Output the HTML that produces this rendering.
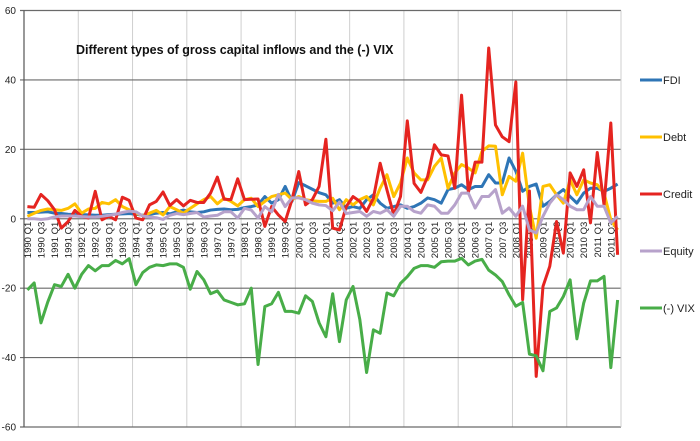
<!DOCTYPE html>
<html><head><meta charset="utf-8"><style>
html,body{margin:0;padding:0;background:#fff;}
svg{display:block;font-family:"Liberation Sans",sans-serif;}
</style></head><body>
<svg id="chart" width="700" height="441" viewBox="0 0 700 441">
<g id="grid"></g>
<g id="yaxis"></g>
<g id="xaxis"></g>
<g id="series"></g>
<text x="76" y="54" font-size="12.5" font-weight="bold" fill="#111">Different types of gross capital inflows and the (-) VIX</text>
<g id="legend"></g>
</svg>
<script>
const yTicks=[60,40,20,0,-20,-40,-60];
const seriesNames=["FDI","Debt","Credit","Equity","(-) VIX"];
const fdi=[1.8,1.8,1.9,2,1.6,1.5,1.3,1.2,1.2,1.1,1,1,1.2,1.3,1.4,1.5,1.3,1,1.2,1.6,1.8,1.4,2,2.5,2,1.8,2,2.5,2.7,2.8,2.6,2.7,3.2,3.5,4,6.4,4.5,5.5,9.3,5,10.4,9.5,8.5,7.5,6.9,4.5,5.5,3,3.5,3,5.5,6.9,4.5,3,3.5,4,3,3.5,4.5,6,5.5,4.5,8.4,8.8,9.8,8.4,9.3,9.3,12.7,10.3,10.3,17.5,13.7,7.9,9.3,10,3.6,5,6.9,8.4,6.4,4.5,7.4,8.8,8.8,7.9,8.8,10];
const debt=[0.7,1.6,2.4,2.8,2.6,2.4,3,4.3,1.6,2.8,3,4.7,4.3,5.5,3.5,2.6,1.6,0.9,1.6,2.4,1.1,3.5,2.6,1.6,3,4.3,5.5,6.4,4.3,5.9,5,3.7,5.5,5.9,3.5,5,6.4,6.9,7.4,5.5,6.4,5.5,5.2,5,5,5.9,2.6,5.5,4,5.5,6.4,4,8.8,12.7,6.4,10.3,17.5,13.2,11.2,11.2,15.1,17.5,8.8,13.2,15.6,14.6,13.2,19.4,21,20.9,6.9,12.2,10.8,18.9,3.6,-5.6,9.3,9.8,6.9,4.5,11.2,6.9,11.2,10.3,9.8,7.4,-0.3,-3.2];
const credit=[3.5,3.3,7,5.2,2.6,-2.7,-0.8,2.4,0.7,0.2,7.9,-0.3,0.7,-0.3,6.2,5.3,0.2,-0.3,4,5,7.7,3.8,5.5,3.7,5.3,4.7,4.7,7.4,12,5.6,5.5,11.5,5.5,5.6,5.7,-2.2,3.5,1.1,-0.8,5.5,13.6,4,5.5,9.3,22.9,-2.7,-3.2,3.5,6.4,5,2.1,5.9,16,8.3,1.1,6.4,28.2,10.2,7.6,12.2,21.3,18.4,18.1,8.8,35.6,7.6,16.3,16.3,49.2,27,23.6,22.2,39.4,-23.3,8,-45.4,-19.5,-13.7,-0.8,-9.9,13.2,9.3,14.1,-1.2,19.1,4,27.6,-10.4];
const equity=[0,0,-0.2,0,0.5,0.8,0.8,0.8,0.6,0.5,0.5,0.7,1,1.3,1.8,2.2,2,0.8,0.5,0.3,-0.2,1,1.5,1.2,1.5,1.8,0.5,0.8,1,2,2,0.2,3,2.5,0.2,3.5,2,7,3.5,6,6,5.5,4.5,4,3.8,2.3,4.8,1.5,1.8,2.1,0.7,2.1,1.6,2.6,0.7,3.6,3.6,2.1,1.6,4,3.6,1.6,1.6,4,7.4,7.4,3.1,6.4,6.4,8.4,1.6,3.1,0.7,3.6,-3.2,-4.1,0.7,4.5,6.9,5.5,3.6,2.6,2.6,6.4,3.6,3.6,-1.2,0.7];
const vix=[-20.5,-18.5,-30,-24,-19,-19.5,-16,-20,-16,-13.5,-15,-13.5,-13.5,-12,-13,-11.5,-19,-15.5,-14,-13.3,-13.5,-13,-13,-14,-20.3,-15.2,-17.6,-21.6,-20.8,-23.4,-24.1,-24.8,-24.5,-20,-42,-25.3,-24.5,-21.2,-26.7,-26.7,-27.2,-22.2,-23.8,-30,-34,-21.6,-35.4,-23.4,-19.5,-29,-44.3,-32,-33,-21.4,-22.2,-18.6,-16.7,-14.3,-13.5,-13.5,-14,-12.4,-12.2,-12.2,-11.4,-13.3,-12.2,-11.7,-14.8,-16.2,-18.1,-21.9,-25.2,-24.1,-39,-39.5,-43.8,-26.7,-25.7,-22.4,-17.6,-34.6,-24.3,-17.9,-17.9,-16.6,-42.9,-23.4];
const colors=["#2e75b6","#ffc000","#e52420","#b7a2cb","#48ad48"];
const seriesData=[fdi,debt,credit,equity,vix];

const NS="http://www.w3.org/2000/svg";
const plotLeft=24,plotRight=621,plotTop=10.5,plotBottom=427,N=88;
const step=(plotRight-plotLeft)/N;
function xs(i){return plotLeft+step*(i+0.5);}
function ys(v){return plotTop+(60-v)/120*(plotBottom-plotTop);}
function mk(tag,attrs,parent){const e=document.createElementNS(NS,tag);for(const k in attrs)e.setAttribute(k,attrs[k]);parent.appendChild(e);return e;}
const grid=document.getElementById('grid'),yax=document.getElementById('yaxis'),xax=document.getElementById('xaxis'),ser=document.getElementById('series'),leg=document.getElementById('legend');
for(let k=1;k<=11;k++){const x=plotLeft+step*8*k;
 const l=mk('line',{x1:x,x2:x,y1:plotTop,y2:plotBottom,stroke:'#cfcfcf','stroke-width':1},grid);
 
 }
yTicks.forEach(t=>{const y=ys(t);
 const l=mk('line',{x1:plotLeft-4,x2:plotRight,y1:y,y2:y,stroke:t===0?'#777':'#6a6a6a','stroke-width':1.2},grid);
 
 
 const tx=mk('text',{x:16,y:y+3.5,'text-anchor':'end','font-size':10,fill:'#222'},yax);tx.textContent=t;
 
 });
const ax=mk('line',{x1:plotLeft,x2:plotLeft,y1:plotTop,y2:plotBottom,stroke:'#555','stroke-width':1.2},yax);


const rb=mk('line',{x1:plotRight,x2:plotRight,y1:plotTop,y2:plotBottom,stroke:'#cfcfcf','stroke-width':1},grid);


const y0=ys(0);
for(let i=0;i<N;i++){
 if(i%2===0){const x=xs(i);const yr=1990+Math.floor(i/4),q=(i%4)+1;
  const tx=mk('text',{x:0,y:0,transform:`translate(${x+3.5},${y0+3}) rotate(-90)`,'text-anchor':'end','font-size':9.5,fill:'#222'},xax);
  tx.textContent=yr+' Q'+q;
  
  }
}
seriesData.forEach((arr,s)=>{
 const d=arr.map((v,i)=>(i?'L':'M')+xs(i).toFixed(2)+' '+ys(v).toFixed(2)).join(' ');
 const p=mk('path',{d:d,fill:'none',stroke:colors[s],'stroke-width':3,'stroke-linejoin':'round'},ser);
 
 
 const ly=80+57*s;
 const ll=mk('line',{x1:640,x2:662,y1:ly,y2:ly,stroke:colors[s],'stroke-width':3},leg);
 
 
 const lt=mk('text',{x:663,y:ly+4,'font-size':11,fill:'#222'},leg);lt.textContent=seriesNames[s];
 
 
});
</script>
</body></html>
